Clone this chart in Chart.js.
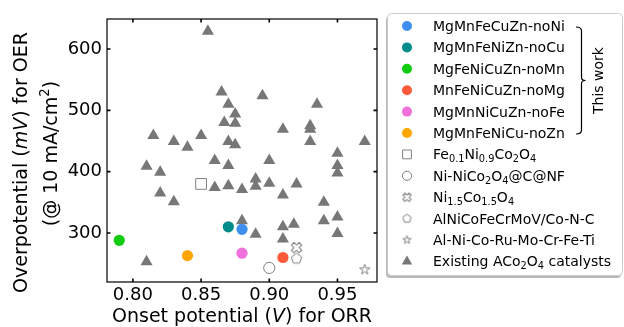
<!DOCTYPE html>
<html lang="en">
<head>
  <meta charset="UTF-8" />
  <meta name="viewport" content="width=device-width, initial-scale=1" />
  <script src="https://cdn.jsdelivr.net/npm/chart.js"></script>
  <title>OER vs ORR</title>
  <style>
    html, body { margin: 0; padding: 0; background: #fff; }
    #wrap { position: relative; width: 624px; height: 327px; }
  </style>
</head>

<body>
  <div id="wrap">
    <canvas id="activityChart"></canvas>
  </div>

  <script>
    // Eixos
    const xTicks = [0.80, 0.85, 0.90, 0.95];
    const yTicks = [300, 400, 500, 600];
    const xTitle = 'Onset potential (*V*) for ORR';
    const yTitle1 = 'Overpotential (*mV*) for OER';
    const yTitle2 = '(@ 10 mA/cm^{2})';

    // Este trabalho (círculos coloridos)
    const thisWorkNames = [
      'MgMnFeCuZn-noNi',
      'MgMnFeNiZn-noCu',
      'MgFeNiCuZn-noMn',
      'MnFeNiCuZn-noMg',
      'MgMnNiCuZn-noFe',
      'MgMnFeNiCu-noZn',
    ];
    const thisWorkOnset = [0.88, 0.87, 0.79, 0.91, 0.88, 0.84];
    const thisWorkOverpot = [306, 310, 288, 260, 267, 263];
    const thisWorkColors = ['#3f8ff0', '#008b8b', '#11cc11', '#ff5a3c', '#f070dc', '#ffa500'];

    // Catalisadores de referência (marcadores vazados)
    const refNames = [
      'Fe_{0.1}Ni_{0.9}Co_{2}O_{4}',
      'Ni-NiCo_{2}O_{4}@C@NF',
      'Ni_{1.5}Co_{1.5}O_{4}',
      'AlNiCoFeCrMoV/Co-N-C',
      'Al-Ni-Co-Ru-Mo-Cr-Fe-Ti',
    ];
    const refOnset = [0.85, 0.90, 0.92, 0.92, 0.97];
    const refOverpot = [380, 243, 276, 258, 240];
    const refShapes = ['rect', 'circle', 'x', 'pentagon', 'star'];

    // ACo2O4 existentes (triângulos)
    const existingName = 'Existing ACo_{2}O_{4} catalysts';
    const existingOnset = [
      0.855, 0.865, 0.895, 0.87, 0.935, 0.875, 0.867, 0.875, 0.815, 0.85,
      0.91, 0.93, 0.93, 0.83, 0.84, 0.87, 0.875, 0.93, 0.97, 0.95,
      0.86, 0.87, 0.90, 0.95, 0.95, 0.81, 0.82, 0.82, 0.83, 0.86,
      0.87, 0.88, 0.89, 0.89, 0.90, 0.91, 0.92, 0.94, 0.94, 0.95,
      0.95, 0.88, 0.89, 0.91, 0.918, 0.91, 0.81,
    ];
    const existingOverpot = [
      629, 530, 524, 510, 510, 494, 480, 479, 459, 459,
      469, 475, 469, 449, 440, 449, 444, 449, 449, 430,
      418, 410, 418, 410, 398, 409, 399, 365, 351, 374,
      377, 371, 388, 376, 381, 362, 380, 350, 320, 326,
      299, 320, 298, 310, 314, 290, 253,
    ];

    const FONT = "'DejaVu Sans', 'Liberation Sans', sans-serif";
    const GRAY = '#777777';

    // marcadores que o Chart.js não tem (X cheio, pentágono, estrela)
    function makeMarker(shape, r) {
      const size = Math.ceil(r * 2 + 4);
      const c = document.createElement('canvas');
      c.width = size;
      c.height = size;
      const g = c.getContext('2d');
      g.translate(size / 2, size / 2);
      g.beginPath();
      if (shape === 'x') {
        const L = r * 1.06, a = L / 3;
        const pts = [[a, L], [a, a], [L, a], [L, -a], [a, -a], [a, -L], [-a, -L], [-a, -a], [-L, -a], [-L, a], [-a, a], [-a, L]];
        g.rotate(Math.PI / 4);
        pts.forEach((p, i) => (i ? g.lineTo(p[0], p[1]) : g.moveTo(p[0], p[1])));
      } else if (shape === 'pentagon') {
        for (let i = 0; i < 5; i++) {
          const t = -Math.PI / 2 + i * 2 * Math.PI / 5;
          g.lineTo(Math.cos(t) * r, Math.sin(t) * r);
        }
      } else if (shape === 'star') {
        for (let i = 0; i < 10; i++) {
          const rr = i % 2 ? r * 0.382 : r;
          const t = -Math.PI / 2 + i * Math.PI / 5;
          g.lineTo(Math.cos(t) * rr, Math.sin(t) * rr);
        }
      }
      g.closePath();
      g.fillStyle = '#fff';
      g.fill();
      g.lineWidth = 1;
      g.strokeStyle = '#808080';
      g.stroke();
      return c;
    }

    const plotStyles = {
      rect: { pointStyle: 'rect', radius: 7.6 },
      circle: { pointStyle: 'circle', radius: 5.6 },
      x: { pointStyle: makeMarker('x', 5.2) },
      pentagon: { pointStyle: makeMarker('pentagon', 5.4) },
      star: { pointStyle: makeMarker('star', 5.4) },
    };
    const legendStyles = {
      rect: { pointStyle: 'rect', radius: 6.2 },
      circle: { pointStyle: 'circle', radius: 4.6 },
      x: { pointStyle: makeMarker('x', 4.2) },
      pentagon: { pointStyle: makeMarker('pentagon', 4.4) },
      star: { pointStyle: makeMarker('star', 4.4) },
    };

    const toPoints = (xs, ys) => xs.map((x, i) => ({ x: x, y: ys[i] }));

    const datasets = [];
    thisWorkNames.forEach((name, i) => {
      datasets.push({
        label: name,
        data: [{ x: thisWorkOnset[i], y: thisWorkOverpot[i] }],
        pointStyle: 'circle',
        pointRadius: 5.6,
        backgroundColor: thisWorkColors[i],
        borderWidth: 0,
      });
    });
    refNames.forEach((name, i) => {
      const st = plotStyles[refShapes[i]];
      datasets.push({
        label: name,
        data: [{ x: refOnset[i], y: refOverpot[i] }],
        pointStyle: st.pointStyle,
        pointRadius: st.radius || 5,
        backgroundColor: '#fff',
        borderColor: '#808080',
        borderWidth: 1,
      });
    });
    datasets.push({
      label: existingName,
      data: toPoints(existingOnset, existingOverpot),
      pointStyle: 'triangle',
      pointRadius: 7,
      backgroundColor: GRAY,
      borderWidth: 0,
    });

    // texto com sub/sobrescrito e itálico: _{..} ^{..} *..*
    function parseRich(str) {
      const out = [];
      const re = /_\{([^}]*)\}|\^\{([^}]*)\}|\*([^*]*)\*|([^_^*]+)/g;
      let m;
      while ((m = re.exec(str))) {
        if (m[1] !== undefined) out.push({ t: m[1], k: 'sub' });
        else if (m[2] !== undefined) out.push({ t: m[2], k: 'sup' });
        else if (m[3] !== undefined) out.push({ t: m[3], k: 'it' });
        else out.push({ t: m[4], k: 'n' });
      }
      return out;
    }

    function segFont(k, size) {
      if (k === 'it') return 'italic ' + size + 'px ' + FONT;
      if (k === 'sub' || k === 'sup') return (size * 0.7) + 'px ' + FONT;
      return size + 'px ' + FONT;
    }

    function drawRich(ctx, str, x, y, size, align) {
      const segs = parseRich(str);
      let total = 0;
      segs.forEach(s => {
        ctx.font = segFont(s.k, size);
        s.w = ctx.measureText(s.t).width;
        total += s.w;
      });
      let cx = align === 'center' ? x - total / 2 : x;
      ctx.textAlign = 'left';
      ctx.textBaseline = 'alphabetic';
      segs.forEach(s => {
        ctx.font = segFont(s.k, size);
        let dy = 0;
        if (s.k === 'sub') dy = size * 0.22;
        if (s.k === 'sup') dy = -size * 0.4;
        ctx.fillText(s.t, cx, y + dy);
        cx += s.w;
      });
    }

    // moldura, ticks para dentro e títulos dos eixos
    const framePlugin = {
      id: 'frame',
      afterDraw(chart) {
        const { ctx, chartArea: a, scales } = chart;
        ctx.save();
        ctx.strokeStyle = '#000';
        ctx.lineWidth = 1.2;
        ctx.strokeRect(a.left, a.top, a.right - a.left, a.bottom - a.top);
        ctx.lineWidth = 1.6;
        ctx.beginPath();
        xTicks.forEach(v => {
          const px = scales.x.getPixelForValue(v);
          ctx.moveTo(px, a.bottom); ctx.lineTo(px, a.bottom - 3.5);
          ctx.moveTo(px, a.top); ctx.lineTo(px, a.top + 3.5);
        });
        yTicks.forEach(v => {
          const py = scales.y.getPixelForValue(v);
          ctx.moveTo(a.left, py); ctx.lineTo(a.left + 3.5, py);
          ctx.moveTo(a.right, py); ctx.lineTo(a.right - 3.5, py);
        });
        ctx.stroke();

        ctx.fillStyle = '#000';
        drawRich(ctx, xTitle, (a.left + a.right) / 2, 322, 19, 'center');
        const cy = (a.top + a.bottom) / 2;
        ctx.save();
        ctx.translate(27, cy + 12);
        ctx.rotate(-Math.PI / 2);
        drawRich(ctx, yTitle1, 0, 0, 19, 'center');
        ctx.restore();
        ctx.save();
        ctx.translate(57, cy + 3);
        ctx.rotate(-Math.PI / 2);
        drawRich(ctx, yTitle2, 0, 0, 19, 'center');
        ctx.restore();
        ctx.restore();
      },
    };

    // legenda desenhada à mão (subscritos + chave "This work")
    const legendPlugin = {
      id: 'customLegend',
      afterDraw(chart) {
        const ctx = chart.ctx;
        const bx = 387.5, by = 13.5, bw = 235, bh = 262;
        ctx.save();
        // sombra
        ctx.fillStyle = 'rgba(0,0,0,0.28)';
        ctx.beginPath();
        ctx.roundRect(bx - 1.5, by + 2.5, bw, bh, 4);
        ctx.fill();
        ctx.fillStyle = '#fff';
        ctx.strokeStyle = '#cccccc';
        ctx.lineWidth = 1;
        ctx.beginPath();
        ctx.roundRect(bx, by, bw, bh, 4);
        ctx.fill();
        ctx.stroke();

        const mx = 407, tx = 433, y0 = 26, dy = 21.4;
        const rows = [];
        thisWorkNames.forEach((n, i) => rows.push({ name: n, style: { pointStyle: 'circle', radius: 5 }, fill: thisWorkColors[i], border: 0 }));
        refNames.forEach((n, i) => rows.push({ name: n, style: legendStyles[refShapes[i]], fill: '#fff', border: 1 }));
        rows.push({ name: existingName, style: { pointStyle: 'triangle', radius: 6 }, fill: GRAY, border: 0 });

        rows.forEach((r, i) => {
          const y = y0 + i * dy;
          ctx.fillStyle = r.fill;
          ctx.strokeStyle = '#808080';
          ctx.lineWidth = 1;
          Chart.helpers.drawPoint(ctx, {
            pointStyle: r.style.pointStyle,
            radius: r.style.radius || 5,
            rotation: 0,
            borderWidth: r.border,
          }, mx, y);
          ctx.fillStyle = '#000';
          drawRich(ctx, r.name, tx, y + 5, 14, 'left');
        });

        // chave
        const yTop = y0 + 1, yBot = y0 + 5 * dy + 1, xk = 581.5;
        const yMid = (yTop + yBot) / 2;
        ctx.strokeStyle = '#000';
        ctx.lineWidth = 1.2;
        ctx.beginPath();
        ctx.moveTo(576, yTop);
        ctx.quadraticCurveTo(xk, yTop, xk, yTop + 4);
        ctx.lineTo(xk, yMid - 3);
        ctx.quadraticCurveTo(xk, yMid, xk + 4, yMid);
        ctx.quadraticCurveTo(xk, yMid, xk, yMid + 3);
        ctx.lineTo(xk, yBot - 4);
        ctx.quadraticCurveTo(xk, yBot, 576, yBot);
        ctx.stroke();

        ctx.save();
        ctx.translate(603, yMid);
        ctx.rotate(-Math.PI / 2);
        ctx.fillStyle = '#000';
        drawRich(ctx, 'This work', 0, 0, 14, 'center');
        ctx.restore();
        ctx.restore();
      },
    };

    const tickFont = { family: FONT, size: 18 };

    new Chart(document.getElementById('activityChart'), {
      type: 'scatter',
      data: { datasets: datasets },
      options: {
        responsive: true,
        maintainAspectRatio: false,
        animation: false,
        events: [],
        layout: { padding: { left: 0, top: 19, right: 247, bottom: 0 } },
        plugins: {
          legend: { display: false },
          tooltip: { enabled: false },
        },
        scales: {
          x: {
            type: 'linear',
            min: 0.781,
            max: 0.979,
            grid: { display: false, drawTicks: false },
            border: { display: false },
            ticks: {
              color: '#000',
              font: tickFont,
              padding: 3,
              maxRotation: 0,
              callback: v => v.toFixed(2),
            },
            afterBuildTicks: s => { s.ticks = xTicks.map(v => ({ value: v })); },
            afterFit: s => { s.height = 45; },
          },
          y: {
            type: 'linear',
            min: 220,
            max: 649,
            grid: { display: false, drawTicks: false },
            border: { display: false },
            ticks: {
              color: '#000',
              font: tickFont,
              padding: 5,
              callback: v => String(v),
            },
            afterBuildTicks: s => { s.ticks = yTicks.map(v => ({ value: v })); },
            afterFit: s => { s.width = 107; },
          },
        },
      },
      plugins: [framePlugin, legendPlugin],
    });
  </script>
</body>

</html>
